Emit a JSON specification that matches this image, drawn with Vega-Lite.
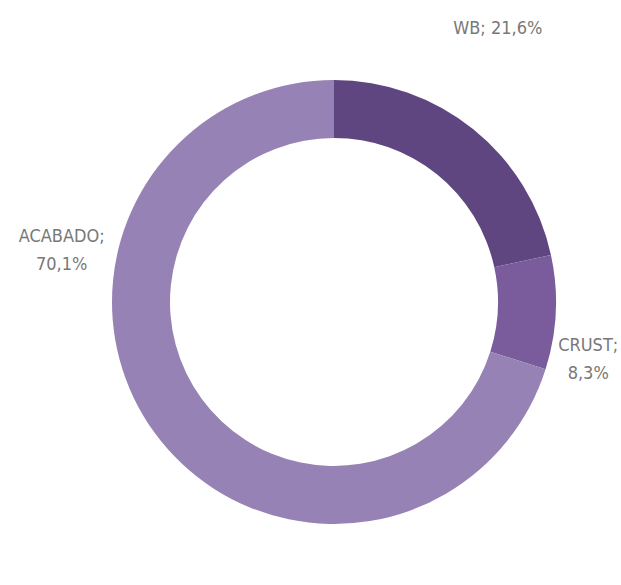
{
  "$schema": "https://vega.github.io/schema/vega-lite/v6.json",
  "width": 574,
  "height": 566,
  "padding": {"left": 47, "top": 19, "right": 0, "bottom": 0},
  "autosize": {"type": "none"},
  "background": "white",
  "view": {"stroke": null},
  "data": {
    "values": [
      {"category": "WB", "value": 21.6, "order": 1, "label": "WB; 21,6%"},
      {"category": "CRUST", "value": 8.3, "order": 2, "label": "CRUST;\n8,3%"},
      {"category": "ACABADO", "value": 70.1, "order": 3, "label": "ACABADO;\n70,1%"}
    ]
  },
  "layer": [
    {
      "mark": {"type": "arc", "outerRadius": 222, "innerRadius": 164, "stroke": null},
      "encoding": {
        "theta": {"field": "value", "type": "quantitative", "stack": true},
        "order": {"field": "order", "type": "ordinal"},
        "color": {
          "field": "category",
          "type": "nominal",
          "scale": {"domain": ["WB", "CRUST", "ACABADO"], "range": ["#5f4681", "#7a5c9c", "#9682b4"]},
          "legend": null
        }
      }
    },
    {
      "transform": [{"filter": "datum.category == 'WB'"}],
      "mark": {"type": "text", "theta": 0.5409, "radius": 318, "font": "DejaVu Sans Condensed", "fontSize": 18, "fill": "#787878", "align": "center", "baseline": "middle", "lineBreak": "\n", "lineHeight": 28},
      "encoding": {"text": {"field": "label"}}
    },
    {
      "transform": [{"filter": "datum.category == 'CRUST'"}],
      "mark": {"type": "text", "theta": 1.7423, "radius": 258, "font": "DejaVu Sans Condensed", "fontSize": 18, "fill": "#787878", "align": "center", "baseline": "middle", "lineBreak": "\n", "lineHeight": 28},
      "encoding": {"text": {"field": "label"}}
    },
    {
      "transform": [{"filter": "datum.category == 'ACABADO'"}],
      "mark": {"type": "text", "theta": 4.9468, "radius": 280, "font": "DejaVu Sans Condensed", "fontSize": 18, "fill": "#787878", "align": "center", "baseline": "middle", "lineBreak": "\n", "lineHeight": 28},
      "encoding": {"text": {"field": "label"}}
    }
  ]
}
